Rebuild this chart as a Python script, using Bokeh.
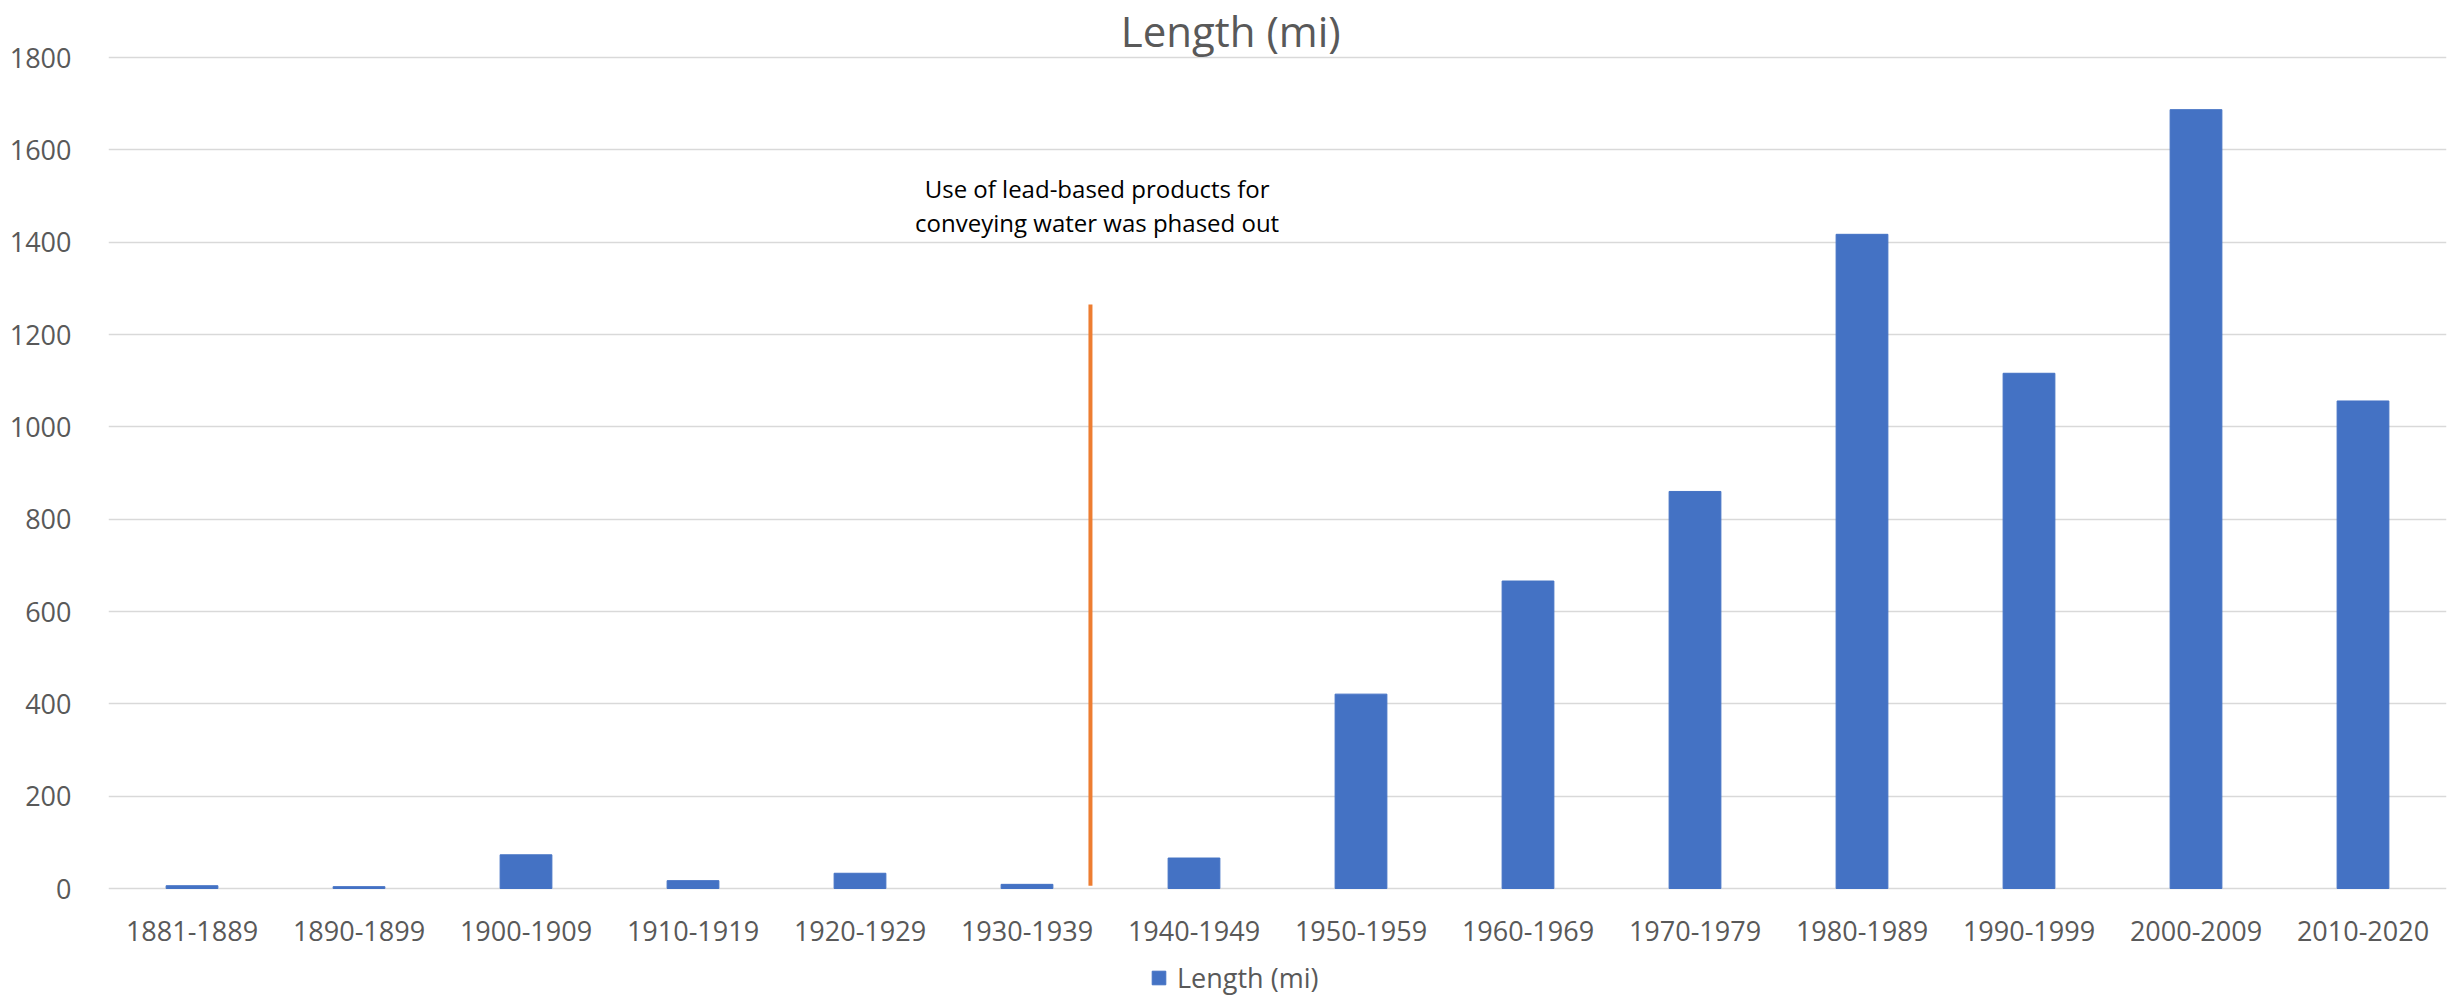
from bokeh.plotting import figure
from bokeh.models import ColumnDataSource, Range1d, FixedTicker, Legend, LegendItem, Label, FactorRange
from bokeh.transform import dodge
from bokeh.core.properties import value
from bokeh.embed import file_html
from bokeh.resources import INLINE

# ---- data ----
decades = ["1881-1889", "1890-1899", "1900-1909", "1910-1919", "1920-1929",
           "1930-1939", "1940-1949", "1950-1959", "1960-1969", "1970-1979",
           "1980-1989", "1990-1999", "2000-2009", "2010-2020"]
length_mi = [6, 4, 73, 17, 33, 9, 66, 421, 666, 860, 1417, 1116, 1687, 1056]
y_ticks = [0, 200, 400, 600, 800, 1000, 1200, 1400, 1600, 1800]
series_name = "Length (mi)"
chart_title = "Length (mi)"
note_lines = ["Use of lead-based products for", "conveying water was phased out"]
note_y = [1516, 1443]
phase_out_after = "1930-1939"
phase_out_span = [6, 1265]

FONT = "Open Sans"
GREY = "#595959"

# layout (pixels): canvas height, y of value 0 and of value 1800
H, Y0, Y1800 = 996, 888, 57
k = (Y0 - Y1800) / 1800.0
y_lo = -(H - Y0) / k
y_hi = 1800 + Y1800 / k

p = figure(width=2448, height=H, x_range=FactorRange(factors=decades),
           y_range=Range1d(y_lo, y_hi), output_backend="svg", toolbar_location=None,
           title=None, x_axis_location=None,
           min_border_left=108, min_border_right=2,
           min_border_top=0, min_border_bottom=0)
p.outline_line_color = None
p.background_fill_color = "white"
p.border_fill_color = "white"

src = ColumnDataSource(dict(decade=decades, length=length_mi))
bars = p.vbar(x="decade", top="length", width=0.31, bottom=0, source=src,
              fill_color="#4472C4", line_color="#4472C4")

# category labels under the baseline
p.text(x="decade", y=0, text="decade", source=src, y_offset=42,
       text_align="center", text_baseline="alphabetic",
       text_font=value(FONT), text_font_size="27px", text_color=GREY)

line_src = ColumnDataSource(dict(x=[phase_out_after], y0=[phase_out_span[0]], y1=[phase_out_span[1]]))
p.segment(x0=dodge("x", 0.38, range=p.x_range), y0="y0",
          x1=dodge("x", 0.38, range=p.x_range), y1="y1",
          source=line_src, line_color="#ED7D31", line_width=4)

note_src = ColumnDataSource(dict(x=[phase_out_after] * len(note_lines), y=note_y, text=note_lines))
p.text(x=dodge("x", 0.42, range=p.x_range), y="y", text="text", source=note_src,
       text_align="center", text_baseline="alphabetic",
       text_font=value(FONT), text_font_size="24px", text_color="black")

p.add_layout(Label(x=6.72, y=1800, y_offset=27, text=chart_title,
                   text_align="center", text_baseline="alphabetic",
                   text_font=FONT, text_font_size="42px", text_color=GREY))

# grid and y axis
p.xgrid.grid_line_color = None
p.ygrid.grid_line_color = "#d9d9d9"
p.ygrid.grid_line_width = 1.5
p.yaxis.ticker = FixedTicker(ticks=y_ticks)
p.yaxis.axis_line_color = None
p.yaxis.major_tick_line_color = None
p.yaxis.minor_tick_line_color = None
p.yaxis.major_label_text_font = FONT
p.yaxis.major_label_text_font_size = "27px"
p.yaxis.major_label_text_color = GREY
p.yaxis.major_label_standoff = 31

legend = Legend(items=[LegendItem(label=series_name, renderers=[bars])],
                location=(1042, 0), orientation="horizontal",
                padding=0, margin=0, border_line_color=None,
                background_fill_alpha=0, glyph_width=17, glyph_height=17,
                label_standoff=10, label_text_font=FONT,
                label_text_font_size="27px", label_text_color=GREY, spacing=0)
p.add_layout(legend)

open("out.html", "w").write(file_html(p, INLINE))
